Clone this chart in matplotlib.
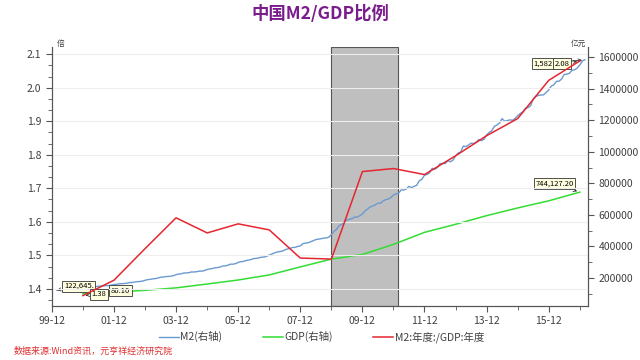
import matplotlib
matplotlib.use('Agg')
import matplotlib.pyplot as plt
import matplotlib.dates as mdates
from matplotlib.ticker import MultipleLocator, AutoMinorLocator, FuncFormatter
import pandas as pd

plt.rcParams['font.family'] = ['Noto Sans CJK SC', 'DejaVu Sans']

# M2 month-end balance (亿元), 2000-02 .. 2017-02
m2_start = '2000-02'
m2_values = [
    122645, 125300, 125500, 126000, 126605, 127000, 128600, 130473, 130500, 132000, 134610,
    137500, 139000, 143623, 144000, 145500, 147810, 148500, 150000, 151800, 152000, 154500, 158302,
    160000, 163000, 164000, 165000, 167000, 170851, 171500, 174000, 176984, 177500, 180500, 185007,
    190000, 191000, 194487, 196000, 199500, 204910, 205500, 209000, 210000, 211000, 215000, 221223,
    225000, 226500, 231655, 232000, 234000, 238427, 238000, 240000, 243757, 243500, 247000, 254107,
    257700, 259400, 264589, 266000, 269000, 275786, 276900, 281000, 287438, 287600, 291000, 298756,
    303600, 304500, 310490, 313700, 316700, 322756, 324000, 327600, 331865, 332700, 337500, 345604,
    351500, 358700, 364104, 367300, 369700, 377832, 383900, 387200, 393098, 394200, 399800, 403442,
    417800, 421000, 423054, 429300, 436200, 443141, 446400, 448800, 452898, 453100, 458600, 475167,
    496100, 506700, 530627, 540500, 548300, 568916, 571700, 576700, 585405, 586600, 594600, 606225,
    625600, 636100, 649947, 656200, 663400, 673921, 674100, 687500, 696471, 699800, 710300, 725852,
    733900, 736100, 758131, 757400, 763400, 780821, 772900, 780900, 787406, 816800, 825500, 851591,
    855900, 867200, 895565, 889600, 900000, 924991, 925900, 924900, 943688, 936400, 947000, 974149,
    992100, 998600, 1035858, 1032600, 1042200, 1054404, 1052200, 1061300, 1077379, 1070200, 1079300, 1106525,
    1123500, 1131800, 1160687, 1168800, 1182300, 1209587, 1194200, 1197500, 1202051, 1199200, 1211100, 1228375,
    1242700, 1252700, 1275333, 1279200, 1290700, 1333375, 1350800, 1356900, 1359824, 1361000, 1374900, 1392278,
    1416300, 1424600, 1446198, 1447400, 1461100, 1490492, 1491600, 1497900, 1516360, 1519500, 1530400, 1550067,
    1575900, 1582900,
]

# annual GDP (亿元) and annual M2/GDP ratio, 2000 .. 2016
years = list(range(2000, 2017))
gdp_values = [100280.1, 110863, 121717, 137422, 161840, 187319, 219439, 270232, 319516,
              349081, 413030, 489301, 540367, 595244, 643974, 689052, 744127.2]
ratio_values = [1.38, 1.426, 1.52, 1.612, 1.567, 1.594, 1.576, 1.492, 1.489,
                1.75, 1.759, 1.741, 1.797, 1.857, 1.908, 2.022, 2.08]

shade_start, shade_end = '2008-12-31', '2011-02-28'
xtick_labels = ['99-12', '01-12', '03-12', '05-12', '07-12', '09-12', '11-12', '13-12', '15-12']

m2_dates = pd.date_range(m2_start, periods=len(m2_values), freq='ME')
year_dates = pd.to_datetime([f'{y}-12-31' for y in years])

fig = plt.figure(figsize=(6.4, 3.6), dpi=100)
ax = fig.add_axes([0.081, 0.15, 0.838, 0.719])
ax2 = ax.twinx()
ax.set_zorder(ax2.get_zorder() + 1)
ax.patch.set_visible(False)

blue = '#6A9AD0'
green = '#33DD33'
red = '#E52630'
axis_col = '#555555'

ax2.axvspan(pd.Timestamp(shade_start), pd.Timestamp(shade_end), facecolor='#BFBFBF',
            edgecolor='#555555', lw=0.8, zorder=1)
l1, = ax2.plot(m2_dates, m2_values, color=blue, lw=1.0, zorder=3, label='M2(右轴)')
l2, = ax2.plot(year_dates, gdp_values, color=green, lw=1.1, zorder=3, label='GDP(右轴)')
l3, = ax.plot(year_dates, ratio_values, color=red, lw=1.1, zorder=4, label='M2:年度:/GDP:年度')

ax.set_xlim(pd.Timestamp('1999-12-31'), pd.Timestamp('2017-04-08'))
ax.set_ylim(1.349, 2.121)
ax2.set_ylim(22500, 1663000)

ax.xaxis.set_minor_locator(mdates.YearLocator(1, month=12, day=31))
ax.set_xticks(pd.to_datetime([f'{1999 + 2 * i}-12-31' for i in range(len(xtick_labels))]))
ax.set_xticklabels(xtick_labels)

ax.yaxis.set_major_locator(MultipleLocator(0.1))
ax.yaxis.set_minor_locator(AutoMinorLocator(3))
ax.yaxis.set_major_formatter(FuncFormatter(lambda v, p: f'{v:.1f}'))
ax2.yaxis.set_major_locator(MultipleLocator(200000))
ax2.yaxis.set_minor_locator(MultipleLocator(100000))
ax2.yaxis.set_major_formatter(FuncFormatter(lambda v, p: f'{int(v)}'))

ax.grid(axis='y', color='#EEEEEE', lw=0.8)
for a in (ax, ax2):
    a.spines['top'].set_visible(False)
    for s in ('left', 'right', 'bottom'):
        a.spines[s].set_color(axis_col)
    a.tick_params(which='both', colors=axis_col, labelcolor='#404040', labelsize=7.5, direction='out')
    a.tick_params(which='major', length=4)
    a.tick_params(which='minor', length=3)

fig.text(0.088, 0.868, '倍', fontsize=5.5, color='#404040', va='bottom')
fig.text(0.915, 0.868, '亿元', fontsize=5.5, color='#404040', va='bottom', ha='right')

# data callouts
box = dict(boxstyle='square,pad=0.2', fc='#FFFFE0', ec='#333333', lw=0.6)
arr = dict(arrowstyle='->', color='#333333', lw=0.6)
ax2.annotate(f'{m2_values[0]:,}.', xy=(m2_dates[0], m2_values[0]), xytext=(5, 3),
             textcoords='offset points', fontsize=5.5, bbox=box, arrowprops=arr, va='center')
ax.annotate(f'{ratio_values[0]:.2f}', xy=(year_dates[0], ratio_values[0]), xytext=(6, 1),
            textcoords='offset points', fontsize=5.5, bbox=box, arrowprops=arr, va='center')
ax2.annotate(f'{gdp_values[0]:,.2f}'[-5:], xy=(year_dates[0], gdp_values[0]), xytext=(20, 2),
             textcoords='offset points', fontsize=5.5, bbox=box, va='center')
ax2.annotate(f'{m2_values[-1]:,}'[:5], xy=(m2_dates[-1], m2_values[-1]), xytext=(-37, -3),
             textcoords='offset points', fontsize=5.5, bbox=box, arrowprops=arr, va='center')
ax.annotate(f'{ratio_values[-1]:.2f}', xy=(year_dates[-1], ratio_values[-1]), xytext=(-18, -2),
            textcoords='offset points', fontsize=5.5, bbox=box, arrowprops=arr, va='center')
ax2.annotate(f'{gdp_values[-1]:,.2f}', xy=(year_dates[-1], gdp_values[-1]), xytext=(-32, 6),
             textcoords='offset points', fontsize=5.5, bbox=box, arrowprops=arr, va='center')

fig.legend(handles=[l1, l2, l3], loc='center', bbox_to_anchor=(0.502, 0.064), ncol=3,
           frameon=False, fontsize=7.5, handlelength=1.9, columnspacing=3.9,
           handletextpad=0.15, labelcolor='#404040')

fig.suptitle('中国M2/GDP比例', x=0.5, y=0.985, fontsize=12.5, fontweight='bold', color='#7B1C8C')
fig.text(0.022, 0.012, '数据来源:Wind资讯，元亨祥经济研究院', fontsize=6.5, color='#E03030',
         style='italic', va='bottom')

fig.savefig('out.png', dpi=100)
